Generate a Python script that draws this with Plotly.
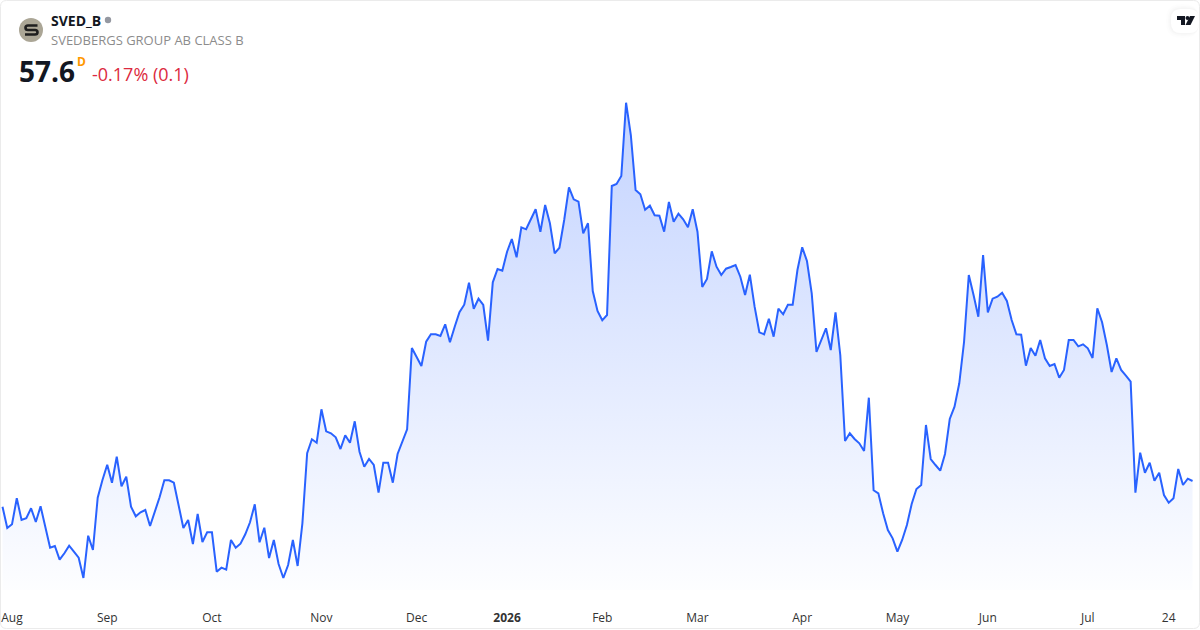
import plotly.graph_objects as go

# daily closes
prices = [
    55.03, 52.90, 53.27, 55.87, 53.70, 53.87, 54.87, 53.50, 55.07, 53.03,
    50.93, 51.10, 49.73, 50.37, 51.13, 50.53, 49.93, 47.90, 52.13, 50.70,
    55.93, 57.70, 59.23, 57.43, 60.03, 57.07, 58.03, 55.03, 54.07, 54.47,
    54.70, 53.10, 54.53, 55.97, 57.67, 57.67, 57.43, 55.13, 52.90, 53.70,
    51.30, 54.30, 51.50, 52.47, 52.47, 48.53, 48.93, 48.73, 51.70, 50.93,
    51.33, 52.27, 53.47, 55.27, 51.47, 52.93, 49.90, 51.70, 49.30, 47.90,
    49.20, 51.70, 49.10, 53.37, 60.37, 61.77, 61.43, 64.77, 62.57, 62.37,
    61.97, 60.80, 62.17, 61.43, 63.57, 60.53, 59.03, 59.80, 59.20, 56.43,
    59.43, 59.43, 57.43, 60.30, 61.53, 62.77, 70.90, 70.03, 69.10, 71.53,
    72.27, 72.27, 72.10, 73.27, 71.47, 73.03, 74.47, 75.23, 77.43, 74.83,
    75.83, 75.20, 71.63, 77.47, 78.80, 78.63, 80.53, 81.80, 79.97, 82.97,
    82.77, 83.77, 84.77, 82.53, 85.20, 83.37, 80.37, 80.93, 83.70, 86.97,
    85.77, 85.53, 82.37, 83.37, 76.60, 74.60, 73.67, 74.20, 87.10, 87.30,
    88.10, 95.43, 92.20, 86.70, 86.27, 84.73, 85.13, 84.17, 84.13, 82.53,
    85.50, 83.53, 84.33, 83.77, 82.97, 84.77, 82.53, 77.00, 77.80, 80.57,
    79.03, 78.20, 78.83, 79.00, 79.20, 78.03, 76.20, 78.23, 75.03, 72.47,
    72.27, 73.83, 72.03, 74.83, 74.27, 75.23, 75.23, 78.70, 80.97, 79.60,
    76.37, 70.50, 71.63, 72.87, 70.70, 74.47, 70.20, 61.60, 62.37, 61.80,
    61.37, 60.60, 65.93, 56.67, 56.37, 54.37, 52.70, 51.87, 50.53, 51.70,
    53.20, 55.30, 56.80, 57.20, 63.20, 59.80, 59.20, 58.63, 60.30, 63.80,
    65.03, 67.37, 71.50, 78.20, 76.20, 74.03, 80.20, 74.47, 75.83, 76.03,
    76.43, 75.60, 73.70, 72.27, 72.23, 69.13, 70.90, 70.13, 71.70, 69.87,
    69.10, 69.30, 67.93, 68.70, 71.70, 71.70, 71.07, 71.27, 70.87, 69.90,
    74.87, 73.47, 71.20, 68.50, 69.87, 68.70, 68.13, 67.53, 56.43, 60.43,
    58.43, 59.43, 57.63, 58.43, 56.20, 55.43, 55.87, 58.80, 57.20, 57.83,
    57.60,
]
tick_idx = [2, 22, 44, 67, 87, 106, 126, 146, 168, 188, 207, 228, 245]
tick_labels = ["Aug", "Sep", "Oct", "Nov", "Dec", "<b>2026</b>", "Feb", "Mar",
               "Apr", "May", "Jun", "Jul", "24"]

WIDTH = 1200
HEIGHT = 630
PLOT_H = 590
FONT = "Open Sans"


def px(x):
    return x / WIDTH


def py(y):
    return 1 - y / PLOT_H


def rounded_box(x0, y0, x1, y1, r):
    return (f"M {px(x0 + r)} {py(y0)} L {px(x1 - r)} {py(y0)} "
            f"Q {px(x1)} {py(y0)} {px(x1)} {py(y0 + r)} L {px(x1)} {py(y1 - r)} "
            f"Q {px(x1)} {py(y1)} {px(x1 - r)} {py(y1)} L {px(x0 + r)} {py(y1)} "
            f"Q {px(x0)} {py(y1)} {px(x0)} {py(y1 - r)} L {px(x0)} {py(y0 + r)} "
            f"Q {px(x0)} {py(y0)} {px(x0 + r)} {py(y0)} Z")


def poly(points):
    return "M " + " L ".join(f"{px(x)} {py(y)}" for x, y in points) + " Z"


def paper_shape(**kw):
    return dict(xref="paper", yref="paper", layer="above", **kw)


def circle(cx, cy, r, color):
    return paper_shape(type="circle", x0=px(cx - r), x1=px(cx + r), y0=py(cy + r), y1=py(cy - r),
                       fillcolor=color, line_width=0)


def label(x, y, text, size, color, weight="normal"):
    # annotations sit about 2px right of x because of their padding
    return dict(xref="paper", yref="paper", x=px(x - 2), y=py(y), text=text, showarrow=False,
                xanchor="left", yanchor="middle", align="left",
                font=dict(family=FONT, size=size, color=color, weight=weight))


fig = go.Figure()
fig.add_trace(go.Scatter(
    x=list(range(len(prices))), y=prices, mode="lines",
    line=dict(color="#2962ff", width=2),
    fill="tozeroy",
    fillgradient=dict(type="vertical", start=46.7, stop=95.43, colorscale=[
        [0, "rgba(41,98,255,0.01)"], [1, "rgba(41,98,255,0.28)"]]),
    hoverinfo="x+y",
))

# stencil S of the company logo
logo_s = (f"M {px(37.5)} {py(25.5)} L {px(28)} {py(25.5)} Q {px(25.5)} {py(25.5)} {px(25.5)} {py(27.7)} "
          f"Q {px(25.5)} {py(30)} {px(28)} {py(30)} L {px(35)} {py(30)} Q {px(37.5)} {py(30)} {px(37.5)} {py(32.2)} "
          f"Q {px(37.5)} {py(34.5)} {px(35)} {py(34.5)} L {px(25)} {py(34.5)}")

shapes = [
    paper_shape(type="path", path=rounded_box(0.5, 0.5, 1199.5, 628.5, 6), line=dict(color="#ebebeb", width=1)),
]
# soft shadow under the logo tab
for grow, alpha in [(5, 0.006), (3, 0.01), (1.5, 0.014)]:
    shapes.append(paper_shape(type="path", path=rounded_box(1171 - grow, 9 - grow, 1199, 33 + grow, 10 + grow),
                              fillcolor=f"rgba(0,0,0,{alpha})", line_width=0))
shapes += [
    paper_shape(type="path", path=rounded_box(1171, 9, 1199, 33, 10), fillcolor="white", line_width=0),
    paper_shape(type="path", path=poly([(1177, 16), (1185, 16), (1185, 25), (1181, 25), (1181, 20), (1177, 20)]),
                fillcolor="#131722", line_width=0),
    circle(1187.5, 18, 2, "#131722"),
    paper_shape(type="path", path=poly([(1190, 16), (1195, 16), (1190.5, 25), (1185.5, 25)]),
                fillcolor="#131722", line_width=0),
    circle(31, 30, 12, "#aba696"),
    paper_shape(type="path", path=logo_s, line=dict(color="#1e1e1e", width=2.6)),
    circle(108, 20, 3.2, "#9598a1"),
]

annotations = [
    label(51, 21, "SVED_B", 14, "#131722", "bold"),
    label(51, 40, "SVEDBERGS GROUP AB CLASS B", 13, "#8c8c8c"),
    label(19, 71, "57.6", 28, "#131722", "bold"),
    label(77, 61, "D", 12, "#ff9800", "bold"),
    label(92, 74, "-0.17% (0.1)", 18, "#dc2a40"),
]

fig.update_layout(
    width=WIDTH,
    height=HEIGHT,
    margin=dict(l=0, r=0, t=0, b=HEIGHT - PLOT_H),
    paper_bgcolor="white",
    plot_bgcolor="white",
    showlegend=False,
    shapes=shapes,
    annotations=annotations,
    xaxis=dict(range=[-0.525, 251.57], tickmode="array", tickvals=tick_idx, ticktext=tick_labels,
               showgrid=False, zeroline=False, showline=False, ticks="outside", ticklen=17,
               tickcolor="rgba(0,0,0,0)", tickfont=dict(family=FONT, size=12, color="#333333")),
    yaxis=dict(range=[46.7, 105.7], visible=False),
)

fig.write_html("out.html", config={"displayModeBar": False},
               post_script="document.body.style.margin='0';document.body.style.overflow='hidden';")
